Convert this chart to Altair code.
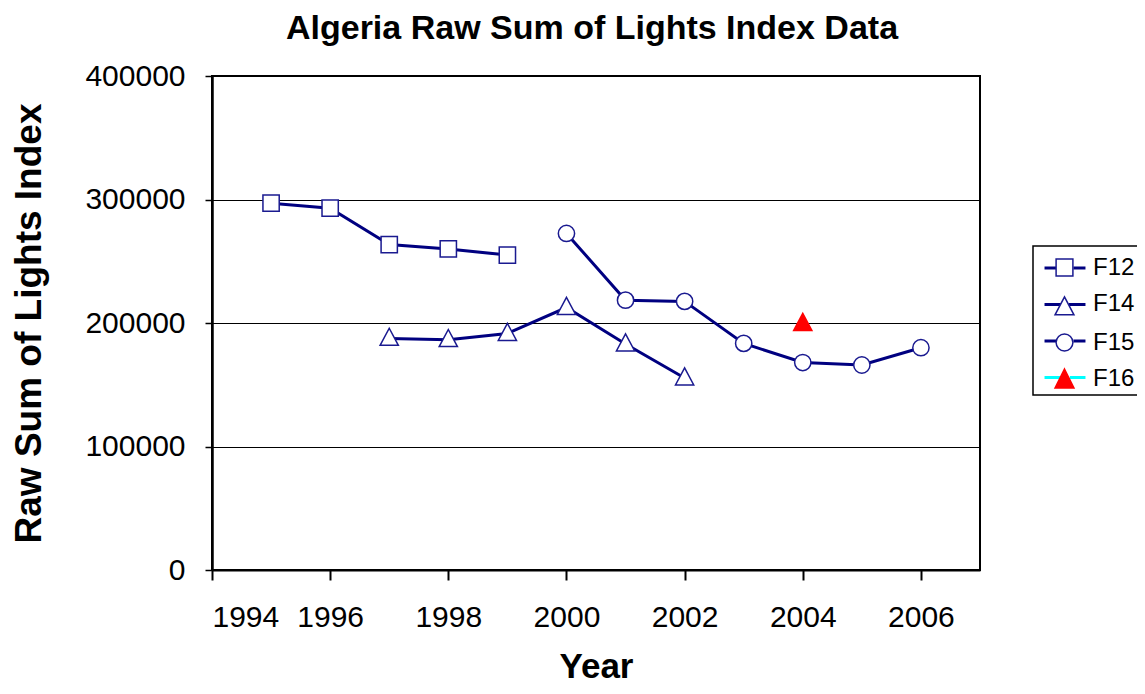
import altair as alt
import pandas as pd

series = ["F12", "F14", "F15", "F16"]
f12_years = [1995, 1996, 1997, 1998, 1999]
f12_values = [297000, 293000, 263500, 260000, 255000]
f14_years = [1997, 1998, 1999, 2000, 2001, 2002]
f14_values = [187500, 186500, 191500, 212500, 183000, 155500]
f15_years = [2000, 2001, 2002, 2003, 2004, 2005, 2006]
f15_values = [272500, 218500, 217500, 183500, 168000, 166000, 180000]
f16_years = [2004]
f16_values = [199500]
x_ticks = [1994, 1996, 1998, 2000, 2002, 2004, 2006]
y_ticks = [0, 100000, 200000, 300000, 400000]

rows = []
for name, yrs, vals in [("F12", f12_years, f12_values), ("F14", f14_years, f14_values),
                        ("F15", f15_years, f15_values), ("F16", f16_years, f16_values)]:
    for yr, v in zip(yrs, vals):
        rows.append({"series": name, "year": yr, "value": v})
df = pd.DataFrame(rows)

NAVY = "#000080"
FONT = "Liberation Sans"

x = alt.X("year:Q",
          scale=alt.Scale(domain=[1994, 2007], nice=False, zero=False),
          axis=alt.Axis(values=x_ticks, format="d", title="Year", grid=False,
                        tickSize=10, tickWidth=2, tickColor="black",
                        domainColor="black", domainWidth=2,
                        labelFont=FONT, labelFontSize=30, labelColor="black", labelPadding=22,
                        titleFont=FONT, titleFontSize=35, titleFontWeight="bold",
                        titleColor="black", titlePadding=17))
y = alt.Y("value:Q",
          scale=alt.Scale(domain=[0, 400000], nice=False),
          axis=alt.Axis(values=y_ticks, format="d", title="Raw Sum of Lights Index",
                        grid=True, gridColor="black", gridWidth=1, gridOpacity=1,
                        tickSize=7, tickWidth=1.5, tickColor="black",
                        domainColor="black", domainWidth=2.5,
                        labelFont=FONT, labelFontSize=30, labelColor="black", labelPadding=20,
                        titleFont=FONT, titleFontSize=37, titleFontWeight="bold",
                        titleColor="black", titlePadding=36))

TRI = "M0,-1.25L1.12,0.85H-1.12Z"

lines = alt.Chart(df).mark_line(color=NAVY, strokeWidth=3).encode(
    x=x, y=y, detail="series:N")

points = alt.Chart(df).mark_point(filled=False, strokeWidth=1.5, opacity=1, size=265).encode(
    x=x, y=y,
    shape=alt.Shape("series:N", scale=alt.Scale(domain=series,
                    range=["square", TRI, "circle", TRI]), legend=None),
    fill=alt.Fill("series:N", scale=alt.Scale(domain=series,
                  range=["white", "white", "white", "red"]), legend=None),
    stroke=alt.Stroke("series:N", scale=alt.Scale(domain=series,
                      range=["#1a1a90", "#1a1a90", "#1a1a90", "red"]), legend=None),
)

stub_paths = ["M-1.17,0H-0.48M0.48,0H1.17",
              "M-1.17,0H-0.22M0.22,0H1.17",
              "M-1.17,0H-0.48M0.48,0H1.17",
              "M-1.17,0H-0.28M0.28,0H1.17"]
marker_paths = ["M-0.48,-0.48H0.48V0.48H-0.48Z",
                "M0,-0.41L0.54,0.62H-0.54Z",
                "M-0.48,0A0.48,0.48,0,1,1,0.48,0A0.48,0.48,0,1,1,-0.48,0Z",
                "M0,-0.57L0.54,0.52H-0.54Z"]

def leg(show_box, stroke_w):
    return alt.Legend(title=None, orient="none", legendX=821, legendY=170,
                      symbolSize=1225, symbolStrokeWidth=stroke_w,
                      labelFont=FONT, labelFontSize=24, labelColor="black",
                      labelOpacity=1 if show_box else 0,
                      padding=3, symbolOffset=10, labelOffset=10, rowPadding=5.5,
                      strokeColor="black" if show_box else "transparent")

legend_lines = alt.Chart(df).transform_filter("false").mark_point(
    filled=False, strokeWidth=3, opacity=1).encode(
    shape=alt.Shape("series:N", scale=alt.Scale(domain=series, range=stub_paths),
                    legend=leg(False, 3)),
    stroke=alt.Stroke("series:N", scale=alt.Scale(domain=series,
                      range=[NAVY, NAVY, NAVY, "#00FFFF"]), legend=leg(False, 3)),
)

legend_marks = alt.Chart(df).transform_filter("false").mark_point(
    filled=False, strokeWidth=1.5, opacity=1).encode(
    shape=alt.Shape("series:N", scale=alt.Scale(domain=series, range=marker_paths),
                    legend=leg(True, 1.5)),
    fill=alt.Fill("series:N", scale=alt.Scale(domain=series,
                  range=["white", "white", "white", "red"]), legend=leg(True, 1.5)),
    stroke=alt.Stroke("series:N", scale=alt.Scale(domain=series,
                      range=["#1a1a90", "#1a1a90", "#1a1a90", "red"]), legend=leg(True, 1.5)),
)

chart = alt.layer(lines, points, legend_lines, legend_marks).resolve_scale(
    shape="independent", fill="independent", stroke="independent"
).properties(
    width=768, height=494,
    title=alt.TitleParams("Algeria Raw Sum of Lights Index Data", font=FONT, fontSize=34,
                          fontWeight="bold", color="black", anchor="middle", offset=15, dx=-4),
    autosize=alt.AutoSizeParams(type="none"),
    padding={"left": 204, "top": 68, "right": 157, "bottom": 116},
    background="white",
).configure_view(stroke="black", strokeWidth=2).configure_legend(strokeWidth=1.5)

chart.save("out.html", embed_options={"renderer": "svg", "actions": False})
